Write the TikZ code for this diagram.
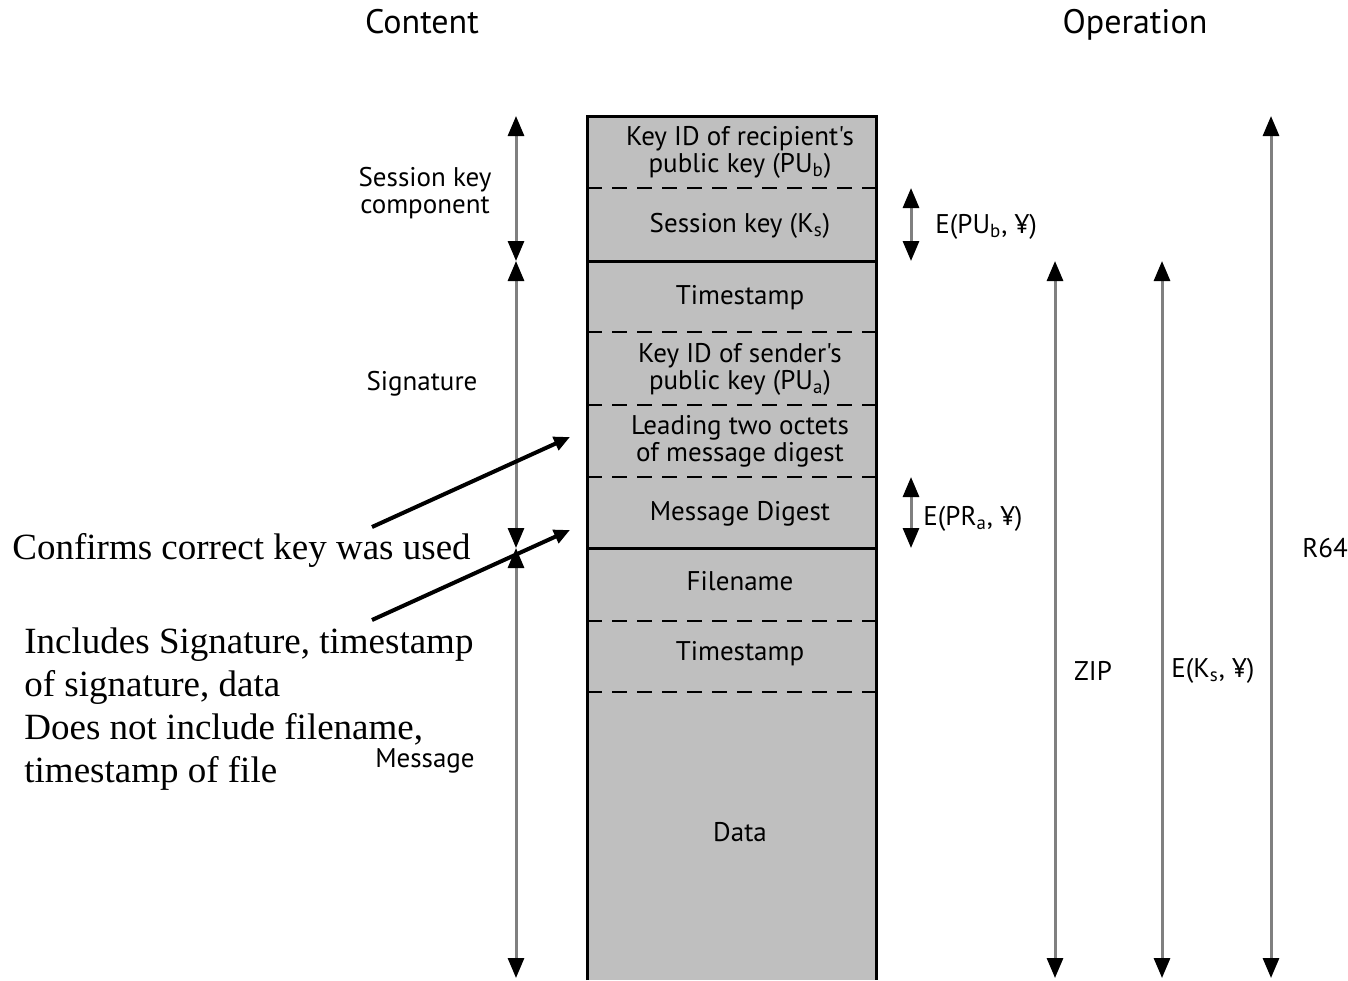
\documentclass[tikz,border=0pt]{standalone}
\usepackage{fontspec}
\setmainfont{Liberation Serif}
\newfontfamily\labelfont{PT Sans}
\usetikzlibrary{arrows.meta}

\begin{document}
\begin{tikzpicture}[x=0.5pt,y=-0.5pt]
    % `field' is used for the texts inside the packet box.
    % `span' is used for the grey double arrows, `note' for the black pointers.
    % `sep' is used for the dashed lines between fields.
    \tikzstyle{field} = [font=\labelfont\fontsize{13.5}{13.5}\selectfont,align=center,inner sep=0pt]
    \tikzstyle{head} = [font=\labelfont\fontsize{17}{20}\selectfont,inner sep=0pt,anchor=base]
    \tikzstyle{remark} = [font=\fontsize{18.5}{21.5}\selectfont,align=left,inner sep=0pt]
    \tikzstyle{span} = [draw=gray,line width=1.5pt,
      {Triangle[width=8pt,length=10pt,color=black]}-{Triangle[width=8pt,length=10pt,color=black]}]
    \tikzstyle{sep} = [line width=1pt,dash pattern=on 7.5pt off 5pt]
    \tikzstyle{note} = [line width=2pt,-{Triangle[width=7pt,length=8pt]}]
    %
    \useasboundingbox (0,0) rectangle (1348,980);
    \node[head] (content) at (422,33) {Content};
    \node[head] (operation) at (1135,33) {Operation};
    %
    % Draw the packet box.
    \fill[black!25] (587,116) rectangle (876,980);
    \draw[sep] (587,188) -- (876,188)  (587,332) -- (876,332)  (587,405) -- (876,405)
               (587,477) -- (876,477)  (587,621) -- (876,621)  (587,692) -- (876,692);
    \draw[line width=1.5pt] (587,261) -- (876,261)  (587,548) -- (876,548);
    \draw[line width=1.5pt] (587,980) -- (587,116) -- (876,116) -- (876,980);
    %
    \node[field] (keyb) at (740,152) {Key ID of recipient's\\public key (PU\textsubscript{b})};
    \node[field] (sess) at (740,226) {Session key (K\textsubscript{s})};
    \node[field] (stamp1) at (740,298) {Timestamp};
    \node[field] (keya) at (740,369) {Key ID of sender's\\public key (PU\textsubscript{a})};
    \node[field] (lead) at (740,441) {Leading two octets\\of message digest};
    \node[field] (digest) at (740,514) {Message Digest};
    \node[field] (fname) at (740,581) {Filename};
    \node[field] (stamp2) at (740,654) {Timestamp};
    \node[field] (data) at (740,832) {Data};
    %
    % Content arrows.
    \coordinate (c0) at (516,116);
    \coordinate (c1) at (516,261);
    \coordinate (c2) at (516,548);
    \coordinate (c3) at (516,978);
    \draw[span] (c0) -- (c1);
    \draw[span] (c1) -- (c2);
    \draw[span] (c2) -- (c3);
    \node[field] (skc) at (425,193) {Session key\\component};
    \node[field] (sig) at (422,384) {Signature};
    \node[field] (msg) at (425,761) {Message};
    %
    % Operation arrows.
    \coordinate (e0) at (911,188);
    \coordinate (e1) at (911,261);
    \coordinate (e2) at (911,477);
    \coordinate (e3) at (911,548);
    \draw[span] (e0) -- (e1);
    \draw[span] (e2) -- (e3);
    \node[field,anchor=west] (epub) at (935,227) {E(PU\textsubscript{b}, ¥)};
    \node[field,anchor=west] (epri) at (923,519) {E(PR\textsubscript{a}, ¥)};
    \coordinate (z0) at (1055,261);
    \coordinate (z1) at (1055,978);
    \coordinate (k0) at (1162,261);
    \coordinate (k1) at (1162,978);
    \coordinate (r0) at (1271,116);
    \coordinate (r1) at (1271,978);
    \draw[span] (z0) -- (z1);
    \draw[span] (k0) -- (k1);
    \draw[span] (r0) -- (r1);
    \node[field] (zip) at (1093,671) {ZIP};
    \node[field,anchor=west] (eks) at (1171,671) {E(K\textsubscript{s}, ¥)};
    \node[field] (rsf) at (1325,548) {R64};
    %
    % Notes on the left.
    \node[remark,anchor=base west] (conf) at (12,559) {Confirms correct key was used};
    \node[remark,anchor=north west] (incl) at (24,627)
      {Includes Signature, timestamp\\of signature, data\\Does not include filename,\\timestamp of file};
    \coordinate (n0) at (372,527);
    \coordinate (n1) at (570,437);
    \coordinate (m0) at (372,620);
    \coordinate (m1) at (570,530);
    \draw[note] (n0) -- (n1);
    \draw[note] (m0) -- (m1);
\end{tikzpicture}
\end{document}
